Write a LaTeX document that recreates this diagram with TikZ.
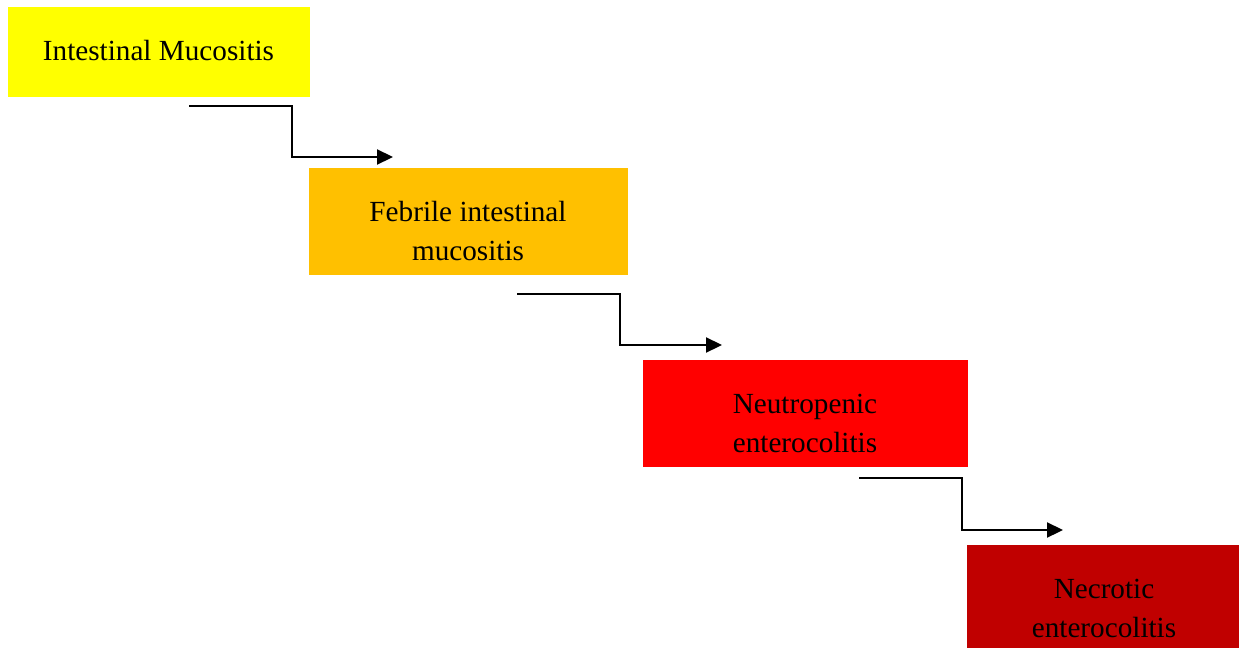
\documentclass[tikz,border=0pt]{standalone}
\usepackage{fontspec}
\setmainfont{Liberation Serif}
\usetikzlibrary{arrows.meta}
\definecolor{cyel}{HTML}{FFFF00}
\definecolor{corg}{HTML}{FFC000}
\definecolor{cred}{HTML}{FF0000}
\definecolor{cdrk}{HTML}{C00000}
\begin{document}
\begin{tikzpicture}[x=1pt,y=-1pt,
  stagebox/.style={rectangle, draw=none, inner sep=0pt, anchor=north west},
  stagetext/.style={align=center, inner sep=0pt, font=\fontsize{29.2}{39}\selectfont},
  flowarrow/.style={line width=2.2pt, -{Triangle[length=16pt,width=15pt]}}]
\useasboundingbox (0,0) rectangle (1239,648);
\fill[white] (0,0) rectangle (1239,648);
% boxes
\node[stagebox, fill=cyel, minimum width=302pt, minimum height=90pt] (b1) at (8,7) {};
\node[stagebox, fill=corg, minimum width=319pt, minimum height=107pt] (b2) at (309,168) {};
\node[stagebox, fill=cred, minimum width=325pt, minimum height=107pt] (b3) at (643,360) {};
\node[stagebox, fill=cdrk, minimum width=272pt, minimum height=103pt] (b4) at (967,545) {};
% texts
\node[stagetext] (t1) at (158.5,50.4) {Intestinal Mucositis};
\node[stagetext] (t2) at (468,230.6) {Febrile intestinal\\mucositis};
\node[stagetext] (t3) at (805,423) {Neutropenic\\enterocolitis};
\node[stagetext] (t4) at (1104,608) {Necrotic\\enterocolitis};
% connectors
\coordinate (s1) at (189,106);
\coordinate (k1) at (292,157);
\coordinate (e1) at (393,157);
\coordinate (s2) at (517,294);
\coordinate (k2) at (620,345);
\coordinate (e2) at (722,345);
\coordinate (s3) at (859,478);
\coordinate (k3) at (962,530);
\coordinate (e3) at (1063,530);
\draw[flowarrow] (s1) -| (k1) -- (e1);
\draw[flowarrow] (s2) -| (k2) -- (e2);
\draw[flowarrow] (s3) -| (k3) -- (e3);
\end{tikzpicture}
\end{document}
